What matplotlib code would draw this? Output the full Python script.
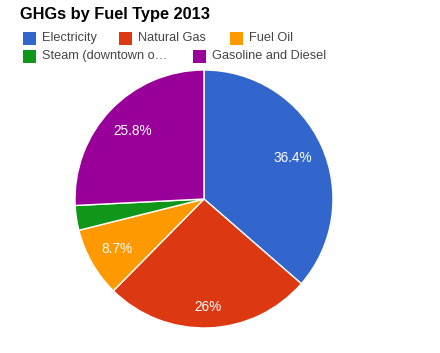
import matplotlib.pyplot as plt
from matplotlib.patches import Rectangle
import numpy as np

# data
labels = ['Electricity', 'Natural Gas', 'Fuel Oil', 'Steam (downtown o\u2026', 'Gasoline and Diesel']
shares = [36.4, 26.0, 8.7, 3.1, 25.8]
pct_text = ['36.4%', '26%', '8.7%', '', '25.8%']
colors = ['#3366cc', '#dc3912', '#ff9900', '#109618', '#990099']

W, H = 440, 353
plt.rcParams['font.family'] = ['Liberation Sans', 'DejaVu Sans']
fig = plt.figure(figsize=(W / 100, H / 100), dpi=100)

# pie area in pixel coords: x 75..333, y 70..328
ax = fig.add_axes([75 / W, 1 - 328 / H, 258 / W, 258 / H])
wedges, _ = ax.pie(shares, colors=colors, startangle=90, counterclock=False,
                   wedgeprops=dict(edgecolor='white', linewidth=1.0))
ax.set_xlim(-1, 1)
ax.set_ylim(-1, 1)
ax.set_aspect('equal')
ax.axis('off')

# percentage labels inside slices
dists = [0.76, 0.84, 0.78, 0.78, 0.76]
for w, t, d in zip(wedges, pct_text, dists):
    if not t:
        continue
    ang = np.deg2rad((w.theta1 + w.theta2) / 2)
    ax.text(d * np.cos(ang), d * np.sin(ang), t, ha='center', va='center',
            color='white', fontsize=9.8)

# title
fig.text(20 / W, 1 - 15 / H, 'GHGs by Fuel Type 2013', fontsize=11.8, fontweight='bold',
         ha='left', va='center', color='#000000')

# legend, drawn by hand like the google chart
leg_pos = [(23, 38), (119, 38), (230, 38), (23, 56), (193, 56)]
for (x, y), lab, c in zip(leg_pos, labels, colors):
    fig.patches.append(Rectangle((x / W, 1 - (y + 6.5) / H), 13 / W, 13 / H,
                                 transform=fig.transFigure, facecolor=c, edgecolor='none'))
    fig.text((x + 19) / W, 1 - y / H, lab, fontsize=9.2, ha='left', va='center', color='#444444')

fig.savefig('out.png', dpi=100)
